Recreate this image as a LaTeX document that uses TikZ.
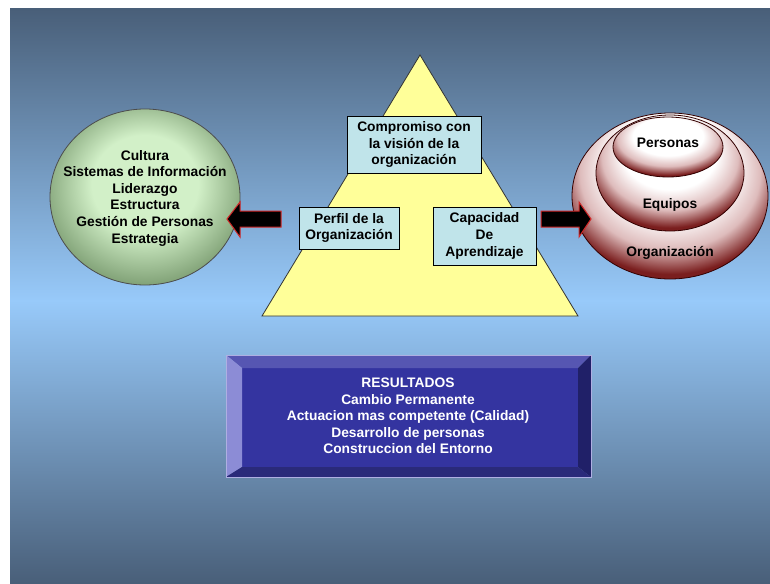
\documentclass[tikz,border=0pt]{standalone}
\usepackage{fontspec}
\setmainfont{Liberation Sans}
\usetikzlibrary{shapes.geometric}
\definecolor{bgdark}{RGB}{73,95,121}
\definecolor{bglight}{RGB}{152,202,250}
\definecolor{pyr}{RGB}{255,255,153}
\definecolor{boxfill}{RGB}{192,228,234}
\definecolor{greenin}{RGB}{210,240,200}
\definecolor{greenout}{RGB}{100,134,90}
\definecolor{redmid}{RGB}{222,188,188}
\definecolor{redout}{RGB}{122,30,30}
\definecolor{arrowred}{RGB}{210,40,40}
\definecolor{face}{RGB}{52,52,160}
\definecolor{bevtop}{RGB}{86,86,178}
\definecolor{bevleft}{RGB}{140,140,214}
\definecolor{bevright}{RGB}{32,32,104}
\definecolor{bevbot}{RGB}{42,42,122}
\pgfdeclareradialshading{greenball}{\pgfpoint{0bp}{5bp}}{color(0bp)=(greenin); color(14bp)=(greenin); color(32bp)=(greenout); color(50bp)=(greenout)}
\pgfdeclareradialshading{redball}{\pgfpoint{0bp}{13bp}}{color(0bp)=(white); color(16bp)=(white); color(23bp)=(redmid); color(29bp)=(redout); color(50bp)=(redout)}
\tikzset{
  txt/.style={font=\bfseries\fontsize{13.8}{16.6}\selectfont, align=center, inner sep=0pt},
  pbox/.style={draw=black, line width=0.8pt, fill=boxfill, inner sep=0pt, txt},
  redell/.style={ellipse, draw=black!80!red, line width=0.8pt, shading=redball, inner sep=0pt},
  blockarrow/.style={fill=black, draw=arrowred, line width=1pt, line join=miter},
}
\begin{document}
\begin{tikzpicture}[x=1pt,y=-1pt]
\useasboundingbox (0,0) rectangle (770,583);
\fill[white] (0,0) rectangle (770,583);
% background
\shade[top color=bgdark, bottom color=bglight] (10,9) rectangle (770,302);
\shade[top color=bglight, bottom color=bgdark] (10,300) rectangle (770,583);

% pyramid
\coordinate (apex) at (420,55);
\coordinate (bl) at (262,316);
\coordinate (br) at (578,316);
\filldraw[fill=pyr, draw=black!80, line width=0.8pt] (apex) -- (br) -- (bl) -- cycle;
\node[pbox, minimum width=134pt, minimum height=57pt] (comp) at (414,144.5) {Compromiso con\\la visión de la\\organización};
\node[pbox, minimum width=100pt, minimum height=42pt] (perfil) at (349,228) {Perfil de la\\Organización};
\node[pbox, minimum width=103pt, minimum height=58pt] (capac) at (484.5,236) {Capacidad\\De\\Aprendizaje};

% left circle
\node[ellipse, draw=black!70, line width=0.8pt, shading=greenball, minimum width=190pt, minimum height=176pt, inner sep=0pt] (green) at (145,197) {};
\node[txt] (greentxt) at (145,198) {Cultura\\Sistemas de Información\\Liderazgo\\Estructura\\Gestión de Personas\\Estrategia};

% right ellipses
\node[redell, minimum width=196pt, minimum height=166pt] (org) at (670,196) {};
\node[redell, minimum width=148pt, minimum height=116pt] (equ) at (670,173) {};
\node[redell, minimum width=110pt, minimum height=60pt] (per) at (668,147) {};
\node[txt] (pertxt) at (668,143) {Personas};
\node[txt] (equtxt) at (670,205) {Equipos};
\node[txt] (orgtxt) at (670,253) {Organización};

% block arrows
\coordinate (la) at (227,219);
\draw[blockarrow] (la) -- (240,202) -- (240,211) -- (281,211) -- (281,227) -- (240,227) -- (240,237) -- cycle;
\coordinate (ra) at (591,219);
\draw[blockarrow] (ra) -- (579,237) -- (579,227) -- (541,227) -- (541,211) -- (579,211) -- (579,202) -- cycle;

% results box
\node[minimum width=365pt, minimum height=122pt, inner sep=0pt] (res) at (408.5,416) {};
\fill[face] (242,368) rectangle (578,467);
\fill[bevtop] (226,355) -- (591,355) -- (578,368) -- (242,368) -- cycle;
\fill[bevleft] (226,355) -- (242,368) -- (242,467) -- (226,477) -- cycle;
\fill[bevright] (591,355) -- (591,477) -- (578,467) -- (578,368) -- cycle;
\fill[bevbot] (226,477) -- (591,477) -- (578,467) -- (242,467) -- cycle;
\draw[draw=bevleft!70!white, line width=0.6pt] (res.north west) rectangle (res.south east);
\node[txt, text=white] (restxt) at (408,416) {RESULTADOS\\Cambio Permanente\\Actuacion mas competente (Calidad)\\Desarrollo de personas\\Construccion del Entorno};
\end{tikzpicture}
\end{document}
